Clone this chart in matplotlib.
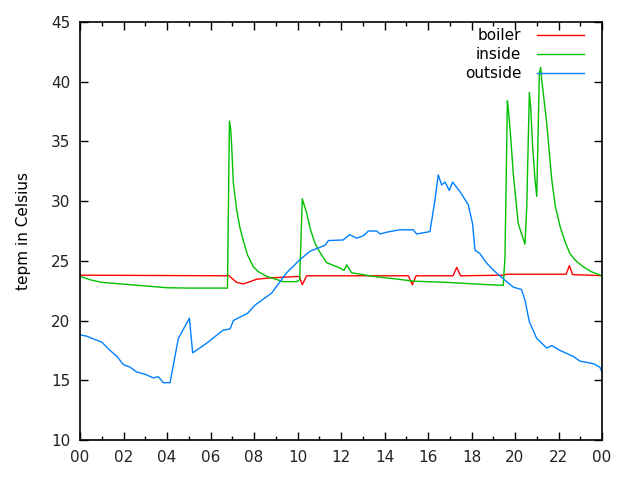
import numpy as np
import matplotlib
matplotlib.use('Agg')
import matplotlib.pyplot as plt

plt.rcParams.update({'font.family': 'DejaVu Sans', 'font.size': 11})

# --- data (hour of day, temperature in C) ---
boiler_t = [0.0, 6.7, 6.82, 7.2, 7.51, 7.82, 8.12, 8.6, 9.04, 10.08, 10.22, 10.42,
            15.1, 15.28, 15.45, 17.15, 17.32, 17.5, 19.5, 19.6, 22.35, 22.5, 22.65, 24.0]
boiler_v = [23.8, 23.75, 23.8, 23.2, 23.07, 23.26, 23.46, 23.55, 23.6, 23.7, 23.0, 23.75,
            23.75, 23.0, 23.75, 23.75, 24.45, 23.75, 23.8, 23.88, 23.88, 24.6, 23.85, 23.76]

inside_t = [0.0, 0.5, 1.0, 2.0, 3.0, 4.0, 5.0, 6.0, 6.78, 6.87, 6.93, 6.97, 7.05, 7.2,
            7.35, 7.5, 7.7, 7.97, 8.2, 8.58, 9.35, 9.96, 10.1, 10.22, 10.42, 10.6, 10.8,
            11.0, 11.34, 11.95, 12.14, 12.26, 12.49, 13.49, 14.68, 15.32, 16.86, 18.39,
            19.46, 19.54, 19.65, 19.7, 19.8, 19.92, 20.15, 20.46, 20.54, 20.66, 20.72,
            20.81, 20.92, 21.0, 21.12, 21.18, 21.23, 21.46, 21.69, 21.85, 22.07, 22.3,
            22.53, 22.8, 23.14, 23.5, 23.98]
inside_v = [23.7, 23.4, 23.2, 23.05, 22.9, 22.75, 22.72, 22.72, 22.72, 36.7, 36.0, 34.8,
            31.5, 29.3, 27.8, 26.75, 25.5, 24.5, 24.1, 23.7, 23.26, 23.26, 23.4, 30.2,
            29.0, 27.6, 26.5, 25.8, 24.85, 24.4, 24.2, 24.66, 24.0, 23.7, 23.45, 23.3,
            23.2, 23.04, 22.95, 25.35, 38.4, 37.6, 35.4, 32.3, 28.1, 26.4, 29.5, 39.1,
            37.9, 34.6, 31.8, 30.4, 40.7, 41.2, 40.15, 36.5, 31.8, 29.6, 27.9, 26.6,
            25.6, 25.0, 24.5, 24.1, 23.76]

outside_t = [0.0, 0.3, 0.7, 1.0, 1.38, 1.7, 2.0, 2.3, 2.6, 3.0, 3.37, 3.6, 3.83, 4.14,
             4.52, 5.03, 5.18, 5.82, 6.58, 6.9, 7.05, 7.36, 7.7, 8.05, 8.43, 8.81, 9.5,
             10.11, 10.57, 11.26, 11.42, 12.1, 12.4, 12.72, 13.03, 13.26, 13.64, 13.8,
             14.1, 14.4, 14.7, 15.32, 15.48, 16.09, 16.32, 16.47, 16.63, 16.78, 16.98,
             17.13, 17.47, 17.85, 18.05, 18.16, 18.39, 18.7, 19.08, 19.46, 19.92, 20.3,
             20.46, 20.66, 21.0, 21.46, 21.69, 22.07, 22.68, 22.99, 23.6, 23.9, 24.0]
outside_v = [18.8, 18.7, 18.4, 18.2, 17.5, 17.0, 16.3, 16.1, 15.7, 15.5, 15.2, 15.3,
             14.8, 14.8, 18.5, 20.2, 17.3, 18.1, 19.2, 19.3, 20.0, 20.3, 20.6, 21.3, 21.8,
             22.3, 24.0, 25.1, 25.8, 26.3, 26.7, 26.75, 27.2, 26.9, 27.1, 27.5, 27.5,
             27.25, 27.4, 27.5, 27.6, 27.6, 27.25, 27.45, 30.1, 32.2, 31.35, 31.6, 30.9,
             31.6, 30.8, 29.7, 28.1, 25.9, 25.6, 24.8, 24.1, 23.5, 22.8, 22.6, 21.7, 19.9,
             18.5, 17.7, 17.9, 17.5, 17.0, 16.6, 16.4, 16.1, 15.7]

x_tick_pos = list(range(0, 25, 2))
x_tick_labels = ['00', '02', '04', '06', '08', '10', '12', '14', '16', '18', '20', '22', '00']

fig = plt.figure(figsize=(6.4, 4.8), dpi=100)
ax = fig.add_axes([80 / 640, 40 / 480, 522 / 640, 418 / 480])

ax.plot(boiler_t, boiler_v, color='#ff0000', lw=1, label='boiler')
ax.plot(inside_t, inside_v, color='#00c000', lw=1, label='inside')
ax.plot(outside_t, outside_v, color='#0080ff', lw=1, label='outside')

ax.set_xlim(0, 24)
ax.set_ylim(10, 45)
ax.set_xticks(x_tick_pos)
ax.set_xticklabels(x_tick_labels)
ax.set_xticks(range(1, 24, 2), minor=True)
ax.set_yticks(range(10, 46, 5))
ax.tick_params(which='both', direction='in', top=True, right=True, colors='black', labelcolor='#222222')
ax.tick_params(which='major', length=6, width=1, pad=7)
ax.tick_params(which='minor', length=3, width=1)
for sp in ax.spines.values():
    sp.set_linewidth(1.2)

ax.set_ylabel('tepm in Celsius', labelpad=14)

ax.legend(loc='upper right', bbox_to_anchor=(0.9655, 0.985), frameon=False,
          markerfirst=False, handlelength=3.1, handletextpad=1.0, labelspacing=0.25,
          borderaxespad=0, borderpad=0, fontsize=11)

plt.savefig('out.png', dpi=100)
